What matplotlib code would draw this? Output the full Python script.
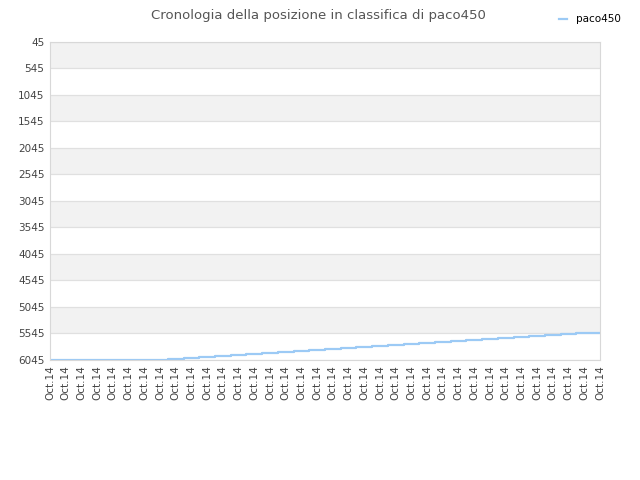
import matplotlib.pyplot as plt
import numpy as np

# posizione in classifica (rank), one value per date label
labels = ["Oct.14"] * 36
ranks = [6045, 6045, 6045, 6045, 6045, 6045, 6045, 6045,
         6026, 6007, 5988, 5969, 5950, 5931, 5912, 5893,
         5874, 5855, 5836, 5817, 5798, 5779, 5760, 5741,
         5722, 5703, 5684, 5665, 5646, 5627, 5608, 5589,
         5570, 5551, 5536, 5536]
yticks = [45, 545, 1045, 1545, 2045, 2545, 3045, 3545, 4045, 4545, 5045, 5545, 6045]

fig = plt.figure(figsize=(6.4, 4.8), dpi=100)
ax = fig.add_axes([50 / 640, 1 - 360 / 480, 550 / 640, 318 / 480])

x = np.arange(len(ranks))
ax.plot(x, ranks, drawstyle="steps-mid", color="#9ccaf5", lw=1.6, label="paco450")

# alternating bands
for i in range(0, len(yticks) - 1, 2):
    ax.axhspan(yticks[i], yticks[i + 1], color="#f2f2f2", zorder=0, lw=0)

ax.set_ylim(6045, 45)
ax.set_xlim(0, len(ranks) - 1)
ax.set_yticks(yticks)
ax.set_yticklabels([str(v) for v in yticks])
ax.set_xticks(x)
ax.set_xticklabels(labels, rotation=90)
ax.grid(axis="y", color="#e0e0e0", lw=0.9)
ax.set_axisbelow(True)
ax.tick_params(length=0, labelsize=7.5, colors="#444444", pad=4)
for s in ax.spines.values():
    s.set_color("#d8d8d8")

fig.text(0.497, 0.982, "Cronologia della posizione in classifica di paco450",
         ha="center", va="top", fontsize=9.5, color="#555555")
ax.legend(loc="upper right", bbox_to_anchor=(1.045, 1.10), frameon=False,
          fontsize=7.5, handlelength=0.8, borderaxespad=0)

fig.savefig("out.png")
